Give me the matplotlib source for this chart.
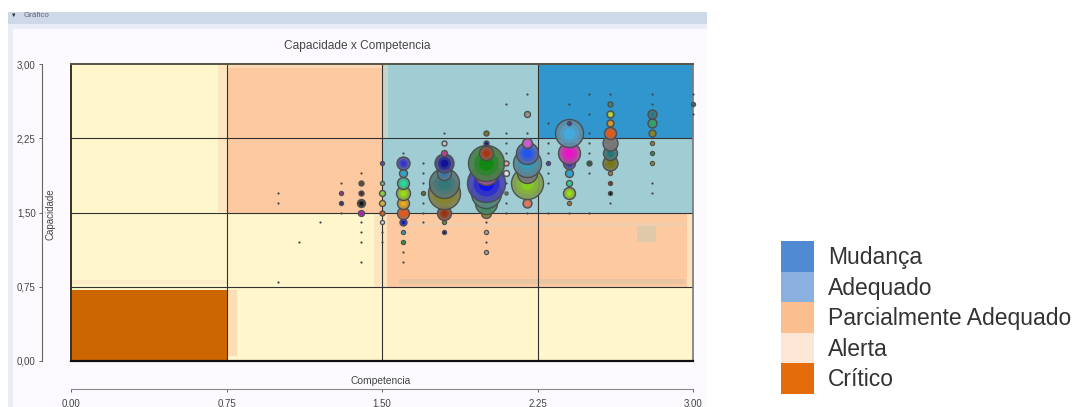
import matplotlib
matplotlib.use("Agg")
import matplotlib.pyplot as plt
from matplotlib.colors import ListedColormap, to_rgb
from matplotlib.patches import Rectangle

plt.rcParams['font.family'] = ['Liberation Sans', 'DejaVu Sans']

W, H = 1076, 407

# zones: 0 critico, 1 creme, 2 pessego, 3 azul claro, 4 azul
zone_colors = ["#CC6600", "#FFF6CC", "#FDC9A0", "#A0CDD3", "#3196CE"]
x_edges = [0, 0.75, 1.5, 2.25, 3]
y_edges = [0, 0.72, 0.75, 1.5, 2.25, 3]
zones = [[0, 1, 1, 1],
         [1, 1, 1, 1],
         [1, 1, 2, 2],
         [1, 2, 3, 3],
         [1, 2, 3, 4]]

ticks = [0, 0.75, 1.5, 2.25, 3]
tick_labels = ["0,00", "0,75", "1,50", "2,25", "3,00"]

# bolhas maiores, coluna por coluna
bubble_x = [1.3, 1.3,
            1.4, 1.4, 1.4, 1.4,
            1.5, 1.5, 1.5, 1.5, 1.5, 1.5,
            1.6, 1.6, 1.6, 1.6, 1.6, 1.6, 1.6, 1.6, 1.6,
            1.7,
            1.8, 1.8, 1.8, 1.8, 1.8, 1.8, 1.8, 1.8, 1.8,
            2.0, 2.0, 2.0, 2.0, 2.0, 2.0, 2.0, 2.0, 2.0, 2.0, 2.0,
            2.1, 2.1, 2.1,
            2.2, 2.2, 2.2, 2.2, 2.2, 2.2, 2.2,
            2.3,
            2.4, 2.4, 2.4, 2.4, 2.4, 2.4, 2.4, 2.4,
            2.5,
            2.6, 2.6, 2.6, 2.6, 2.6, 2.6, 2.6, 2.6, 2.6, 2.6,
            2.8, 2.8, 2.8, 2.8, 2.8, 2.8,
            3.0]
bubble_y = [1.7, 1.6,
            1.8, 1.7, 1.6, 1.5,
            2.0, 1.8, 1.7, 1.6, 1.5, 1.4,
            2.0, 1.9, 1.8, 1.7, 1.6, 1.5, 1.4, 1.3, 1.2,
            1.7,
            2.2, 2.1, 2.0, 1.9, 1.8, 1.7, 1.5, 1.4, 1.3,
            2.3, 2.2, 2.1, 2.0, 1.9, 1.8, 1.7, 1.6, 1.5, 1.3, 1.1,
            2.0, 1.9, 1.7,
            2.5, 2.2, 2.1, 2.0, 1.9, 1.8, 1.6,
            2.0,
            2.4, 2.3, 2.1, 2.0, 1.9, 1.8, 1.7, 1.6,
            2.0,
            2.6, 2.5, 2.4, 2.3, 2.2, 2.1, 2.0, 1.9, 1.8, 1.7,
            2.5, 2.4, 2.3, 2.2, 2.1, 2.0,
            2.6]
bubble_r = [2, 2,
            2.5, 2.5, 4, 3,
            2, 2, 3, 3, 2.5, 2,
            6.5, 4, 6, 7, 6, 6, 3.5, 2, 2,
            2,
            2.5, 3, 9.5, 7, 15, 16, 7, 2, 2,
            2.5, 2.5, 7, 18, 12, 19, 15, 11, 5, 2, 2,
            2.5, 3, 1.5,
            3, 5, 11, 14, 10, 16, 4.5,
            2,
            2, 14, 11, 6, 4, 3, 6, 2,
            2.5,
            2.5, 3.5, 3.5, 6, 7.5, 7, 7.5, 2, 2, 2,
            4.5, 4.5, 3.5, 2, 2, 2,
            2]
bubble_color = ["#992299", "#222288",
                "#554422", "#442222", "#111111", "#BB11BB",
                "#4444AA", "#55BB88", "#88DD33", "#DDBB33", "#EE5511", "#DDDDDD",
                "#3333CC", "#22AADD", "#22DD99", "#99DD11", "#EEAA11", "#EE5511", "#1111DD", "#11AABB", "#119933",
                "#666622",
                "#CCCCCC", "#CC3399", "#111199", "#3377AA", "#337777", "#888811", "#993311", "#668822", "#111177",
                "#777711", "#111199", "#AA3311", "#118811", "#CC33AA", "#1111EE", "#339988", "#119955", "#888811", "#AAAAAA", "#AAAAAA",
                "#EEAAAA", "#EEEEEE", "#777777",
                "#999999", "#DD55DD", "#2255EE", "#3399BB", "#777777", "#88CC22", "#EE7755",
                "#3333BB",
                "#3333AA", "#44AADD", "#EE11CC", "#3333BB", "#22AADD", "#22DD99", "#99DD11", "#AA7722",
                "#225533",
                "#338866", "#BBDD22", "#EE9911", "#EE5511", "#777777", "#227777", "#777711", "#AA7733", "#882222", "#111111",
                "#227788", "#22AA66", "#888811", "#AA7722", "#228833", "#888822",
                "#336655"]

# pontos minusculos
dot_x = [1.0, 1.0, 1.0, 1.1, 1.2, 1.3, 1.3,
         1.4, 1.4, 1.4, 1.4, 1.4, 1.5, 1.5,
         1.6, 1.6, 1.6, 1.7, 1.7, 1.7, 1.7, 1.7, 1.7,
         1.8, 2.0, 2.0, 2.1, 2.1, 2.1, 2.1, 2.1, 2.1, 2.1,
         2.2, 2.2, 2.2, 2.3, 2.3, 2.3, 2.3, 2.3, 2.3,
         2.4, 2.4, 2.5, 2.5, 2.5, 2.5, 2.5, 2.5, 2.5,
         2.6, 2.6, 2.8, 2.8, 2.8, 2.8, 3.0, 3.0]
dot_y = [1.7, 1.6, 0.8, 1.2, 1.4, 1.8, 1.5,
         1.9, 1.4, 1.3, 1.2, 1.0, 1.3, 1.2,
         2.1, 1.1, 1.0, 2.0, 1.9, 1.8, 1.6, 1.5, 1.4,
         2.3, 1.4, 1.2, 2.6, 2.3, 2.2, 2.1, 1.8, 1.6, 1.5,
         2.3, 1.5, 2.7, 2.4, 2.2, 2.1, 1.9, 1.8, 1.5,
         2.6, 1.5, 2.7, 2.5, 2.3, 2.2, 2.1, 1.9, 1.5,
         2.7, 1.6, 2.7, 2.6, 1.8, 1.7, 2.7, 2.5]

legend_labels = ["Mudança", "Adequado", "Parcialmente Adequado", "Alerta", "Crítico"]
legend_colors = ["#4F8AD2", "#8AB0E0", "#FBBE8E", "#FCE6D6", "#E46C0A"]


def box(x0, y0, x1, y1):
    # pixels da imagem (origem no topo) -> fracao da figura
    return [x0 / W, 1 - y1 / H, (x1 - x0) / W, (y1 - y0) / H]


def px2pt(r):
    return r * 72 / 100


def mix(c, k):
    # mistura a cor com cinza, k=1 so cinza
    r, g, b = to_rgb(c)
    return (r * (1 - k) + 0.47 * k, g * (1 - k) + 0.47 * k, b * (1 - k) + 0.47 * k)


fig = plt.figure(figsize=(W / 100, H / 100), dpi=100, facecolor="white")

# painel da pagina
for b, c in [(box(8, 24, 707, 407), "#E9EDF7"), (box(13, 29, 707, 407), "#FCFAFF"), (box(8, 12, 707, 24), "#CDD8E8")]:
    fig.add_artist(Rectangle((b[0], b[1]), b[2], b[3], transform=fig.transFigure, color=c, lw=0, zorder=-5))
fig.text(24 / W, 1 - 15.5 / H, "Gráfico", fontsize=5.8, color="#667", va="center")
fig.text(14 / W, 1 - 15 / H, "▼", fontsize=4, color="#222", va="center", ha="center")

ax = fig.add_axes(box(71, 64, 693, 361))
ax.pcolormesh(x_edges, y_edges, zones, cmap=ListedColormap(zone_colors), vmin=0, vmax=4, zorder=0)

# manchas de compressao do print original
for x0, y0, w, h, c in [(2.73, 1.2, 0.09, 0.18, "#E0C9A8"),
                        (1.58, 1.36, 1.38, 0.03, "#F1CFAE"),
                        (1.58, 0.78, 1.38, 0.05, "#E9C3A2"),
                        (1.5, 0.75, 0.025, 0.75, "#FDE3BC"),
                        (2.97, 0.75, 0.03, 0.75, "#FDE3BC"),
                        (0.71, 1.5, 0.04, 1.5, "#FBE6C0"),
                        (1.46, 0.75, 0.04, 0.75, "#FBE6C0"),
                        (0.75, 0.05, 0.05, 0.67, "#FBDDB6"),
                        (0.0, 0.78, 0.75, 0.04, "#FCEBC6"),
                        (0.75, 2.96, 0.75, 0.03, "#FDD8B4"),
                        (1.5, 2.25, 0.03, 0.75, "#C5D3C8")]:
    ax.add_patch(Rectangle((x0, y0), w, h, color=c, lw=0, zorder=1))

for v in ticks[1:-1]:
    ax.axvline(v, color="#333333", lw=0.8, zorder=2)
    ax.axhline(v, color="#333333", lw=0.8, zorder=2)
ax.axvline(0, color="#333322", lw=1.4, zorder=2, clip_on=False)
ax.axvline(3, color="#777777", lw=1.2, zorder=2, clip_on=False)
ax.axhline(3, color="#555544", lw=1.4, zorder=2, clip_on=False)
ax.axhline(0, color="#111111", lw=1.6, zorder=2, clip_on=False)

ax.scatter(dot_x, dot_y, s=px2pt(2.2) ** 2, color="#444444", lw=0, zorder=3, clip_on=False)

# de baixo para cima: a bolha de y maior fica por cima
order = sorted(range(len(bubble_y)), key=lambda i: bubble_y[i])
for n, i in enumerate(order):
    d = px2pt(2 * bubble_r[i])
    z = 4 + n * 0.01
    ax.scatter(bubble_x[i], bubble_y[i], s=d ** 2, color=mix(bubble_color[i], 0.55), alpha=0.93,
               edgecolor="#4A4A4A", lw=1.0, zorder=z, clip_on=False)
    ax.scatter(bubble_x[i], bubble_y[i], s=(d * 0.68) ** 2, color=mix(bubble_color[i], 0.3),
               lw=0, zorder=z, clip_on=False)
    ax.scatter(bubble_x[i], bubble_y[i], s=(d * 0.4) ** 2, color=bubble_color[i],
               lw=0, zorder=z, clip_on=False)

ax.set_xlim(0, 3)
ax.set_ylim(0, 3)
ax.set_xticks(ticks, tick_labels)
ax.set_yticks(ticks, tick_labels)
ax.tick_params(labelsize=7, labelcolor="#444444", color="#666666", length=2.5, width=0.7, pad=2)
ax.tick_params(axis="x", pad=4)
ax.spines["top"].set_visible(False)
ax.spines["right"].set_visible(False)
ax.spines["left"].set_position(("outward", px2pt(29)))
ax.spines["bottom"].set_position(("outward", px2pt(28)))
ax.spines["left"].set_color("#666666")
ax.spines["bottom"].set_color("#888888")

fig.text(357 / W, 1 - 46 / H, "Capacidade x Competencia", fontsize=8.6, color="#444444", ha="center", va="center")
fig.text(381 / W, 1 - 381.5 / H, "Competencia", fontsize=7.4, color="#444444", ha="center", va="center")
fig.text(50 / W, 1 - 214 / H, "Capacidade", fontsize=7, color="#444444", rotation=90, ha="center", va="center")

# legenda
leg = fig.add_axes(box(781, 241, 814, 394))
leg.barh(range(len(legend_labels)), [1] * len(legend_labels), height=1, color=legend_colors)
leg.set_xlim(0, 1)
leg.set_ylim(len(legend_labels) - 0.5, -0.5)
leg.axis("off")
for i, lab in enumerate(legend_labels):
    leg.text(1.42, i + 0.04, lab, fontsize=16.5, color="#333333", va="center", ha="left", clip_on=False)

fig.savefig("out.png", dpi=100)
